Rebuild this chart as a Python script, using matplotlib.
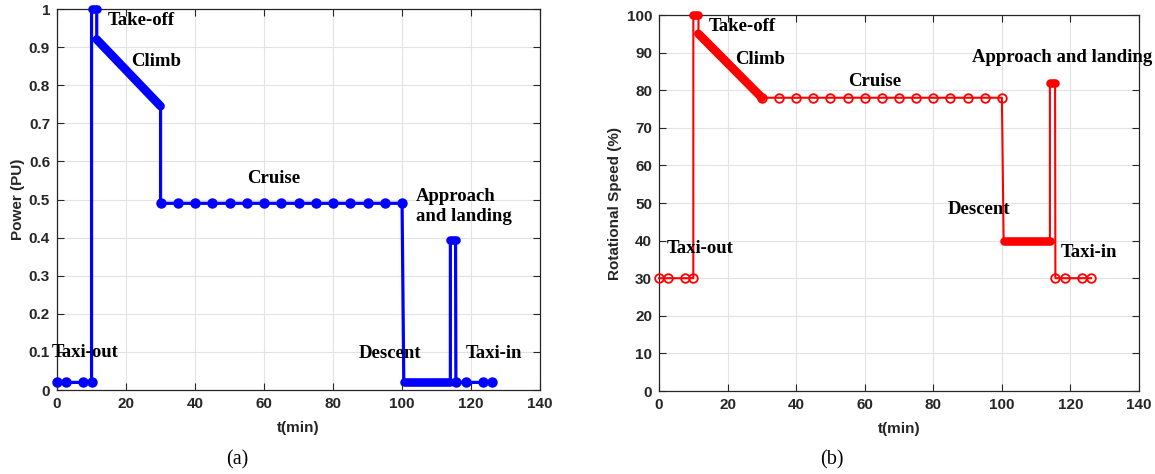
import matplotlib
matplotlib.use("Agg")
import matplotlib.pyplot as plt

# ---- power profile (a), PU ----
taxi_out_t = [0, 2.5, 7.5, 10]
taxi_out_p = [0.02, 0.02, 0.02, 0.02]
takeoff_t = [10, 11.5]
takeoff_p = [1.0, 1.0]
climb_t = [11.5, 30]
climb_p = [0.92, 0.745]
cruise_t = [30, 35, 40, 45, 50, 55, 60, 65, 70, 75, 80, 85, 90, 95, 100]
cruise_p = [0.49] * 15
descent_t = [100.5, 114]
descent_p = [0.02, 0.02]
approach_t = [114, 115.5]
approach_p = [0.395, 0.395]
taxi_in_t = [115.6, 118.5, 123.5, 126]
taxi_in_p = [0.02, 0.02, 0.02, 0.02]

# ---- rotational speed (b), % ----
taxi_out_s = [30, 30, 30, 30]
takeoff_s = [100, 100]
climb_s = [95, 78]
cruise_s = [78] * 15
descent_s = [40, 40]
approach_s = [82, 82]
taxi_in_s = [30, 30, 30, 30]

phase_t = [taxi_out_t, takeoff_t, climb_t, cruise_t, descent_t, approach_t, taxi_in_t]
power = [taxi_out_p, takeoff_p, climb_p, cruise_p, descent_p, approach_p, taxi_in_p]
speed = [taxi_out_s, takeoff_s, climb_s, cruise_s, descent_s, approach_s, taxi_in_s]
dense = [False, True, True, False, True, True, False]

labels_a = [("Taxi-out", -1.5, 0.098), ("Take-off", 14.8, 0.971), ("Climb", 21.4, 0.861),
            ("Cruise", 55.2, 0.556), ("Approach\nand landing", 104, 0.482),
            ("Descent", 87.3, 0.097), ("Taxi-in", 118.6, 0.097)]
labels_b = [("Taxi-out", 2.3, 38.0), ("Take-off", 14.6, 96.9), ("Climb", 22.2, 88.2),
            ("Cruise", 55.1, 82.4), ("Approach and landing", 91.3, 88.7),
            ("Descent", 84.2, 48.4), ("Taxi-in", 117.2, 36.8)]

DARK = "#262626"
SERIF = ["Liberation Serif", "DejaVu Serif"]
SANS = ["Liberation Sans", "DejaVu Sans"]


def profile(ax, values, color, filled, lw):
    t_all, v_all = [], []
    for t, v in zip(phase_t, values):
        t_all += t
        v_all += v
    ax.plot(t_all, v_all, color=color, lw=lw, clip_on=False, zorder=3)
    ms = 6.2
    for t, v, d in zip(phase_t, values, dense):
        if d:
            # densely sampled segment: markers overlap into a solid band
            ax.plot(t, v, color=color, lw=ms, solid_capstyle="round", clip_on=False, zorder=4)
        else:
            ax.plot(t, v, ls="none", marker="o", ms=ms, color=color,
                    mfc=color if filled else "none", mew=1.3, clip_on=False, zorder=4)


def style(ax, ylim, yticks, ylabel):
    ax.set_xlim(0, 140)
    ax.set_ylim(*ylim)
    ax.set_xticks(range(0, 141, 20))
    ax.set_yticks(yticks)
    ax.grid(True, color="#e3e3e3", lw=0.8)
    ax.set_axisbelow(True)
    for s in ax.spines.values():
        s.set_color(DARK)
        s.set_linewidth(0.9)
    ax.tick_params(direction="in", top=True, right=True, length=5, width=0.8,
                   colors=DARK, labelsize=11, pad=5)
    for lab in ax.get_xticklabels() + ax.get_yticklabels():
        lab.set_fontweight("bold")
        lab.set_family(SANS)
    ax.set_xlabel("t(min)", fontsize=11, fontweight="bold", family=SANS, color=DARK, labelpad=7)
    ax.set_ylabel(ylabel, fontsize=11, fontweight="bold", family=SANS, color=DARK, labelpad=3)


fig = plt.figure(figsize=(11.55, 4.74), dpi=100)
ax1 = fig.add_axes([0.0494, 0.1772, 0.4182, 0.8038])
ax2 = fig.add_axes([0.5706, 0.1751, 0.4156, 0.7932])

profile(ax1, power, "#0000ff", True, 2.3)
style(ax1, (0, 1), [i / 10 for i in range(11)], "Power (PU)")
ax1.set_yticklabels(["0", "0.1", "0.2", "0.3", "0.4", "0.5", "0.6", "0.7", "0.8", "0.9", "1"])
for lab in ax1.get_yticklabels():
    lab.set_fontweight("bold")
    lab.set_family(SANS)

profile(ax2, speed, "#ff0000", False, 1.5)
style(ax2, (0, 100), range(0, 101, 10), "Rotational Speed (%)")

for ax, labs in ((ax1, labels_a), (ax2, labels_b)):
    for txt, x, y in labs:
        ax.text(x, y, txt, family=SERIF, fontweight="bold", fontsize=13.5, ha="left",
                va="center", linespacing=1.2, clip_on=False, zorder=6)

fig.text(237 / 1155, 1 - 460 / 474, "(a)", family=SERIF, fontsize=14.5, ha="center", va="center")
fig.text(832 / 1155, 1 - 460 / 474, "(b)", family=SERIF, fontsize=14.5, ha="center", va="center")

fig.savefig("out.png", dpi=100)
